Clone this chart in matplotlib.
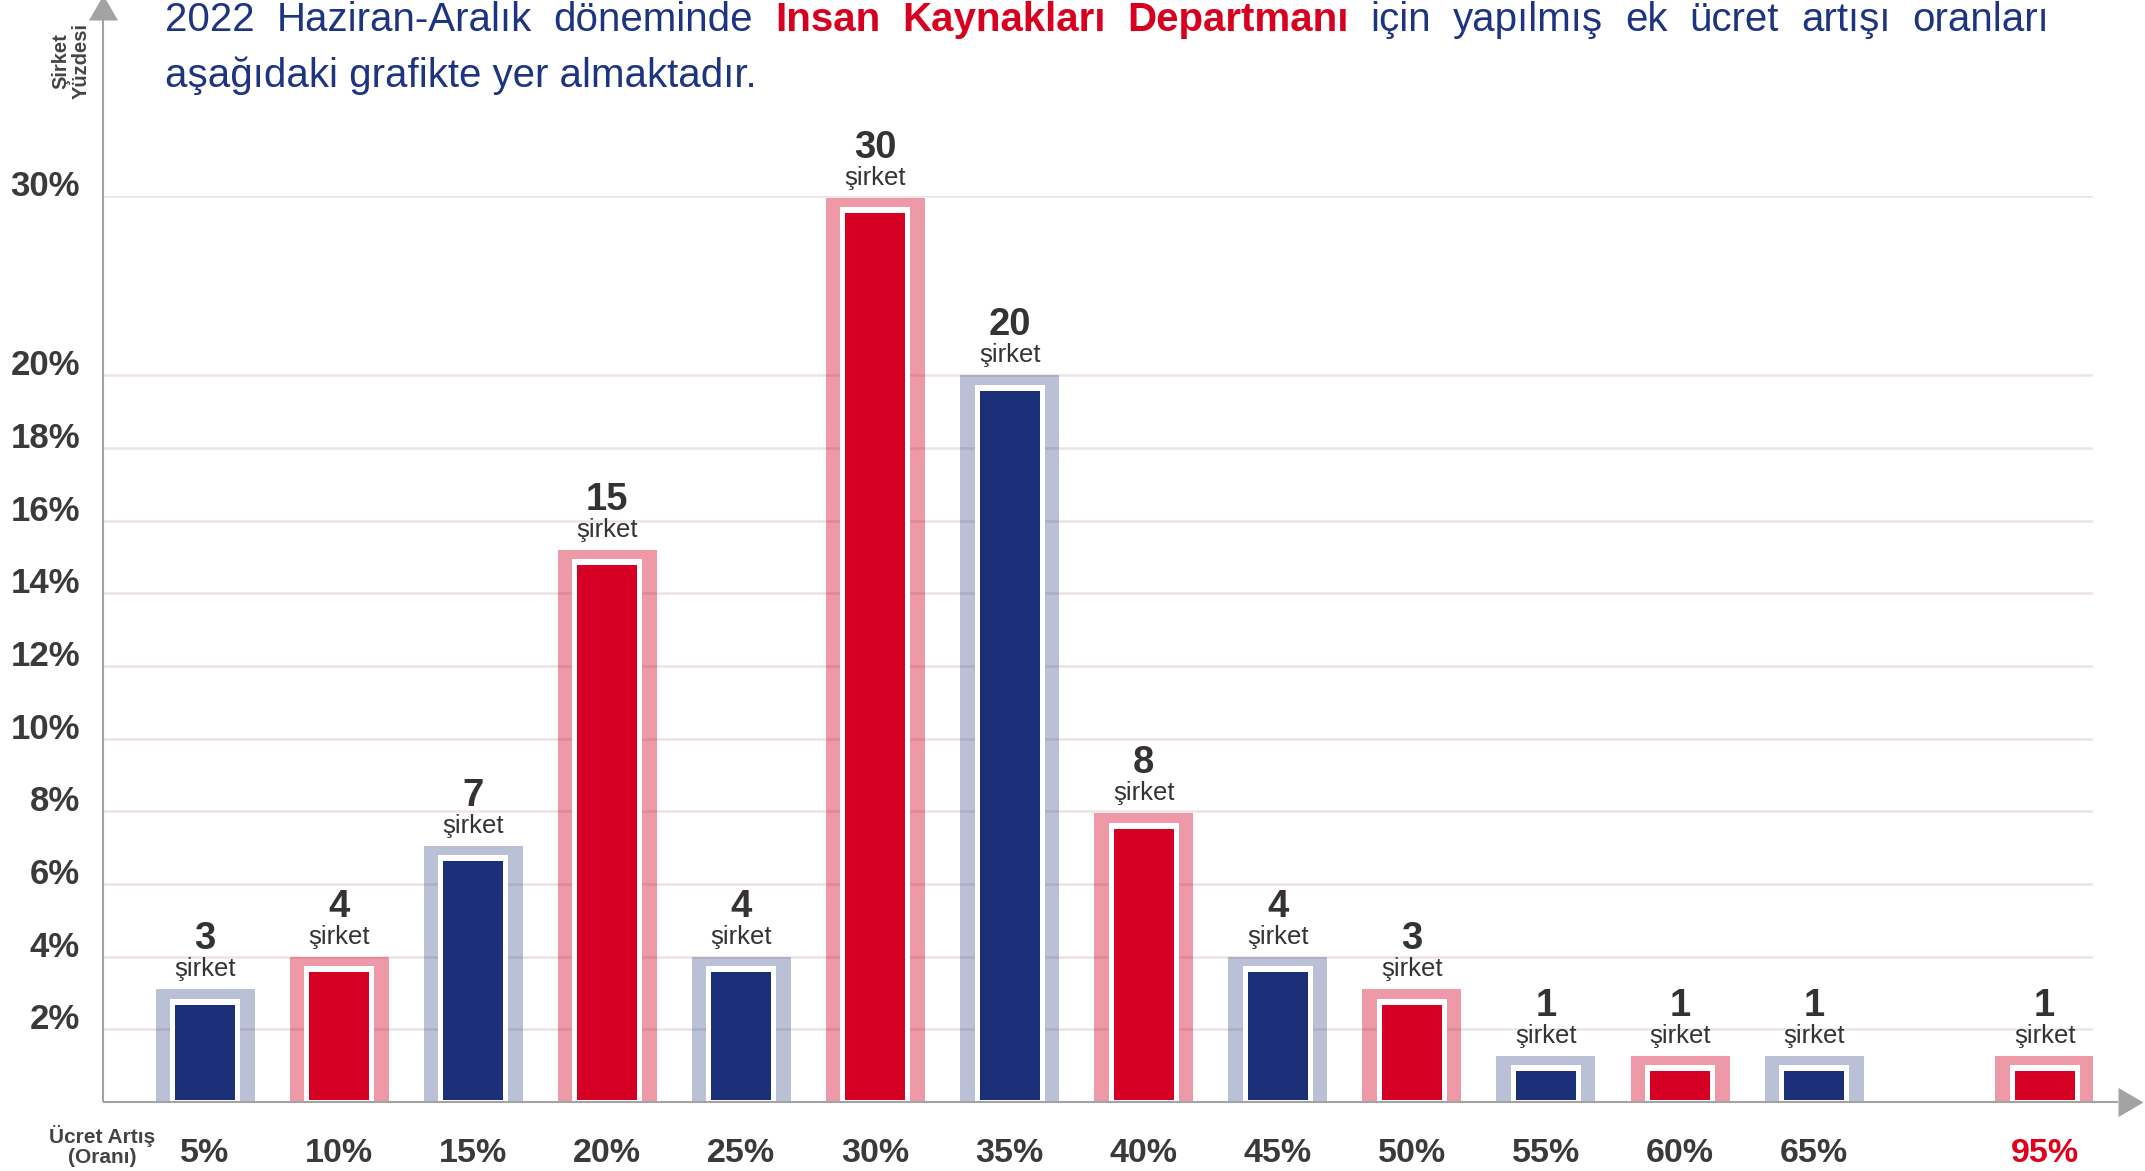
import numpy as np
import matplotlib
matplotlib.use("Agg")
import matplotlib.pyplot as plt

# ---------------- data ----------------
categories = ["5%", "10%", "15%", "20%", "25%", "30%", "35%", "40%",
              "45%", "50%", "55%", "60%", "65%", "95%"]
company_counts = [3, 4, 7, 15, 4, 30, 20, 8, 4, 3, 1, 1, 1, 1]
company_share = [3.1, 4.0, 7.05, 15.2, 4.0, 29.9, 20.0, 7.95, 4.0, 3.1,
                 1.27, 1.27, 1.27, 1.27]
bar_series = ["blue", "red", "blue", "red", "blue", "red", "blue", "red",
              "blue", "red", "blue", "red", "blue", "red"]
ytick_values = [2, 4, 6, 8, 10, 12, 14, 16, 18, 20, 30]
ytick_labels = [f"{v}%" for v in ytick_values]
count_unit = "şirket"
title_line1 = [("2022 Haziran-Aralık döneminde", "normal", "title"),
               ("Insan Kaynakları Departmanı", "bold", "accent"),
               ("için yapılmış ek ücret artışı oranları", "normal", "title")]
title_line2 = "aşağıdaki grafikte yer almaktadır."
y_axis_label = "Şirket\nYüzdesi"
x_axis_label = ["Ücret Artış", "(Oranı)"]

# ---------------- style ----------------
plt.rcParams["font.family"] = ["Liberation Sans", "DejaVu Sans"]
NAVY = "#1c3079"
RED = "#d60024"
TITLE_NAVY = "#1d3481"
TITLE_RED = "#d8001f"
TEXT = "#333333"
AXIS = "#a3a3a3"
GRID = "#ede3e7"
dark_col = {"blue": NAVY, "red": RED}
frame_alpha = {"blue": 0.30, "red": 0.40}
title_col = {"title": TITLE_NAVY, "accent": TITLE_RED}

W, H = 2145, 1171
fig = plt.figure(figsize=(W / 100, H / 100), dpi=100)
ax_l, ax_r, ax_t, ax_b = 103, 2093, 196, 1102
ax = fig.add_axes([ax_l / W, (H - ax_b) / H, (ax_r - ax_l) / W, (ax_b - ax_t) / H])

K = 0.493  # compression of the axis above 20 %


def fwd(v):
    v = np.asarray(v, dtype=float)
    return np.where(v <= 20, v, 20 + (v - 20) * K)


def inv(u):
    u = np.asarray(u, dtype=float)
    return np.where(u <= 20, u, 20 + (u - 20) / K)


ax.set_yscale("function", functions=(fwd, inv))
ax.set_ylim(0, 30)
xmin, xmax = -0.761, 14.08
ax.set_xlim(xmin, xmax)

ppu = (ax_b - ax_t) / float(fwd(30) - fwd(0))      # px per scaled unit
spx = (ax_r - ax_l) / (xmax - xmin)                # px per x unit


def shift(v, px):
    return float(inv(fwd(v) - px / ppu))


x_pos = np.arange(len(categories), dtype=float)
x_pos[-1] += 0.72   # gap before the 95% group

for xi, v, s in zip(x_pos, company_share, bar_series):
    ax.bar(xi, v, width=99 / spx, color=dark_col[s], alpha=frame_alpha[s],
           linewidth=0, zorder=2)
    ax.bar(xi, shift(v, 9.5), width=70 / spx, color="white", linewidth=0, zorder=3)
    b = float(inv(2.5 / ppu))
    ax.bar(xi, shift(v, 15.5) - b, bottom=b, width=60 / spx, color=dark_col[s],
           linewidth=0, zorder=4)

for xi, v, n in zip(x_pos, company_share, company_counts):
    ax.annotate(str(n), (xi, v), xytext=(0, 40 * 0.72), textcoords="offset points",
                ha="center", va="baseline", fontsize=27.5, fontweight="bold",
                color=TEXT, annotation_clip=False, zorder=6)
    ax.annotate(count_unit, (xi, v), xytext=(0, 13 * 0.72), textcoords="offset points",
                ha="center", va="baseline", fontsize=18.5, color=TEXT,
                annotation_clip=False, zorder=6)

# grid
ax.set_yticks(ytick_values)
ax.set_yticklabels([])
ax.tick_params(axis="y", length=0)
ax.grid(axis="y", color=GRID, linewidth=1.8)
ax.set_axisbelow(True)
for sp in ax.spines.values():
    sp.set_visible(False)

for v, lab in zip(ytick_values, ytick_labels):
    ax.text(-23 / (ax_r - ax_l), v, lab, transform=ax.get_yaxis_transform(),
            ha="right", va="baseline", fontsize=25, fontweight="bold", color="#3a3a3a")

# x tick labels
ax.set_xticks(x_pos, categories)
ax.tick_params(axis="x", length=0, pad=26, labelsize=24.5, labelcolor="#3a3a3a")
for lab in ax.get_xticklabels():
    lab.set_fontweight("bold")
ax.get_xticklabels()[-1].set_color("#e0001b")

# axis lines with arrows
ytop = 1 + (ax_t - 20) / (ax_b - ax_t)
ax.plot([0, 0], [0, ytop], transform=ax.transAxes, color=AXIS, lw=1.5,
        clip_on=False, zorder=5, solid_capstyle="butt")
ax.plot([0], [ytop], transform=ax.transAxes, marker=[(0, 18), (-10.5, 0), (10.5, 0)],
        markersize=36, color=AXIS, markeredgewidth=0, clip_on=False, zorder=5)
xend = (2118 - ax_l) / (ax_r - ax_l)
ax.plot([0, xend], [0, 0], transform=ax.transAxes, color=AXIS, lw=1.5,
        clip_on=False, zorder=5, solid_capstyle="butt")
ax.plot([xend], [0], transform=ax.transAxes, marker=[(0, 10.5), (0, -10.5), (18, 0)],
        markersize=36, color=AXIS, markeredgewidth=0, clip_on=False, zorder=5)

# axis titles
fig.text(71 / W, 1 - 61 / H, y_axis_label, rotation=90, ha="center", va="center",
         fontsize=14.5, fontweight="bold", color="#444444", linespacing=1.05,
         multialignment="center")
fig.text(102 / W, 1 - 1143 / H, x_axis_label[0], ha="center", va="baseline",
         fontsize=15, fontweight="bold", color="#444444")
fig.text(102 / W, 1 - 1163 / H, x_axis_label[1], ha="center", va="baseline",
         fontsize=15, fontweight="bold", color="#444444")

# justified title
renderer = fig.canvas.get_renderer()
tx_l, tx_r = 165, 2049
words = []
for seg, weight, key in title_line1:
    for w in seg.split():
        words.append(fig.text(0, 1 - 31 / H, w, fontsize=29, fontweight=weight,
                              color=title_col[key], ha="left", va="baseline"))
widths = [t.get_window_extent(renderer).width for t in words]
gap = (tx_r - tx_l - sum(widths)) / (len(words) - 1)
xc = tx_l
for t, wd in zip(words, widths):
    t.set_x(xc / W)
    xc += wd + gap
fig.text(tx_l / W, 1 - 87 / H, title_line2, fontsize=29, color=TITLE_NAVY,
         ha="left", va="baseline")

fig.savefig("out.png", dpi=100, facecolor="white")
